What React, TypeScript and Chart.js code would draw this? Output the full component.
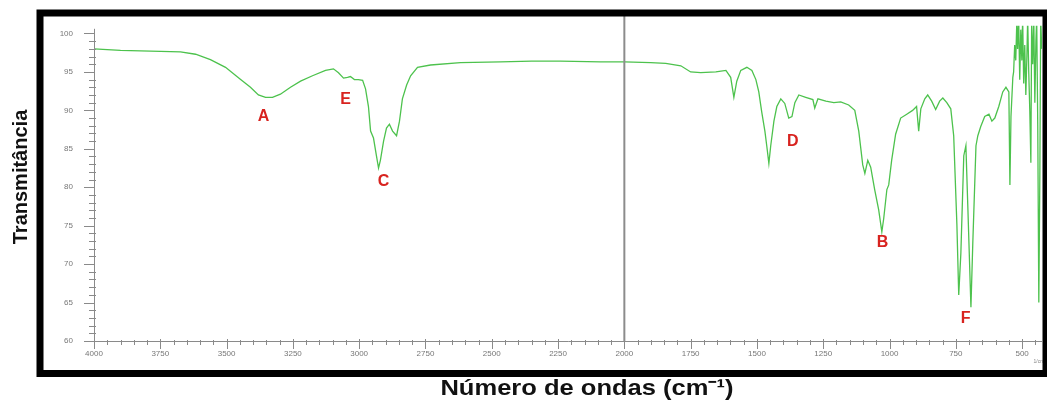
import { useEffect, useRef } from 'react';
import { Chart, registerables } from 'chart.js';

Chart.register(...registerables);

const wavenumbers = [
  4000, 3900, 3787, 3674, 3617, 3561, 3504, 3447, 3410, 3380, 3353, 3327, 3297, 3259, 3221, 3176, 3127, 3097,
  3078, 3059, 3044, 3033, 3018, 3003, 2987, 2976, 2965, 2957, 2946, 2935, 2927, 2920, 2908, 2897, 2886, 2874,
  2859, 2848, 2837, 2821, 2806, 2780, 2731, 2618, 2467, 2350, 2241, 2090, 2000, 1901, 1844, 1787, 1750, 1712,
  1655, 1617, 1599, 1587, 1576, 1561, 1538, 1519, 1504, 1493, 1482, 1470, 1463, 1455, 1448, 1436, 1425, 1410,
  1395, 1380, 1368, 1357, 1342, 1316, 1289, 1282, 1270, 1240, 1210, 1184, 1154, 1131, 1116, 1101, 1093, 1082,
  1071, 1056, 1041, 1029, 1022, 1010, 1003, 992, 977, 958, 935, 913, 898, 890, 882, 867, 856, 841, 826, 811,
  799, 784, 769, 758, 746, 739, 731, 720, 712, 705, 693, 686, 674, 667, 656, 641, 625, 614, 603, 588, 573, 561,
  550, 546, 542, 535, 532, 528, 524, 520, 517, 513, 509, 505, 501, 498, 494, 490, 486, 482, 479, 475, 471, 467,
  464, 460, 456, 452, 448, 445, 441, 437, 433, 430, 426,
];

const transmittance = [
  98.0, 97.8, 97.7, 97.6, 97.3, 96.6, 95.6, 94.0, 93.0, 92.0, 91.7, 91.7, 92.1, 93.0, 93.8, 94.5, 95.2, 95.4,
  94.9, 94.2, 94.3, 94.4, 94.0, 94.0, 93.9, 92.8, 90.5, 87.3, 86.4, 84.1, 82.5, 83.5, 86.0, 87.7, 88.2, 87.3,
  86.7, 88.6, 91.5, 93.3, 94.5, 95.6, 95.9, 96.2, 96.3, 96.4, 96.4, 96.3, 96.3, 96.2, 96.1, 95.8, 95.0, 94.9,
  95.0, 95.2, 94.3, 91.7, 93.8, 95.2, 95.6, 95.2, 94.0, 92.4, 89.8, 87.3, 85.4, 83.1, 85.4, 88.6, 90.5, 91.5,
  90.9, 89.0, 89.2, 91.0, 92.0, 91.7, 91.4, 90.3, 91.5, 91.2, 91.0, 91.1, 90.7, 90.0, 87.3, 82.9, 81.8, 83.5,
  82.6, 79.7, 77.1, 74.2, 75.9, 79.7, 80.3, 83.5, 86.9, 89.0, 89.5, 90.0, 90.5, 87.3, 90.2, 91.5, 92.0, 91.2, 90.1, 91.2,
  91.6, 91.0, 90.2, 86.7, 75.2, 66.0, 71.4, 84.1, 85.4, 77.8, 64.4, 72.7, 85.4, 86.7, 87.9, 89.2, 89.5, 88.6, 89.0, 90.5, 92.4, 93.0,
  92.4, 80.3, 89.2, 94.3, 95.0, 98.5, 96.5, 101.5, 98.0, 102, 94.0, 100.5, 96.5, 102, 93.5, 98.5, 92.0, 97.0, 102, 95.0, 90.0, 83.2,
  101.5, 96.0, 102, 91.0, 99.0, 102, 88.0, 65.0, 82.0, 102, 98.0,
];

const xTickValues = [4000, 3750, 3500, 3250, 3000, 2750, 2500, 2250, 2000, 1750, 1500, 1250, 1000, 750, 500];
const yTickValues = [100, 95, 90, 85, 80, 75, 70, 65, 60];

const peakLabels = ['A', 'B', 'C', 'D', 'E', 'F'];
const peakLabelX = [3361, 1026, 2908, 1365, 3051, 713];
const peakLabelY = [89.2, 72.8, 80.7, 86.0, 91.4, 62.9];

const xTitle = 'Número de ondas (cm⁻¹)';
const yTitle = 'Transmitância';
const unitLabel = '1/cm';
const separatorWavenumber = 2000;

const FONT = '"Liberation Sans", Arial, sans-serif';

const decorPlugin = {
  id: 'decor',
  afterDraw(chart: any) {
    const ctx = chart.ctx;
    const { left, right, top, bottom } = chart.chartArea;
    const xs = chart.scales.x;
    const ys = chart.scales.y;
    ctx.save();

    // axis lines
    ctx.strokeStyle = '#8a8a8a';
    ctx.lineWidth = 1;
    ctx.beginPath();
    ctx.moveTo(left + 0.5, top + 3);
    ctx.lineTo(left + 0.5, bottom + 0.5);
    ctx.lineTo(right, bottom + 0.5);
    ctx.stroke();

    // y ticks
    ctx.beginPath();
    for (let v = ys.min; v <= 100; v += 1) {
      const py = Math.round(ys.getPixelForValue(v)) + 0.5;
      const major = v % 5 === 0;
      ctx.moveTo(left - (major ? 10 : 5), py);
      ctx.lineTo(left + (major ? 1 : 2), py);
    }
    // x ticks
    for (let v = 4000; v >= xs.min; v -= 50) {
      const px = Math.round(xs.getPixelForValue(v)) + 0.5;
      const major = v % 250 === 0;
      ctx.moveTo(px, bottom - (major ? 2 : 1));
      ctx.lineTo(px, bottom + (major ? 8 : 4));
    }
    ctx.stroke();

    // separator at 2000
    const sx = xs.getPixelForValue(separatorWavenumber);
    ctx.strokeStyle = '#8c8c8c';
    ctx.lineWidth = 2;
    ctx.beginPath();
    ctx.moveTo(sx, 15);
    ctx.lineTo(sx, bottom);
    ctx.stroke();

    // peak labels
    ctx.fillStyle = '#d8231f';
    ctx.font = `bold 16px ${FONT}`;
    ctx.textAlign = 'center';
    ctx.textBaseline = 'middle';
    peakLabels.forEach((t, i) => {
      ctx.fillText(t, xs.getPixelForValue(peakLabelX[i]), ys.getPixelForValue(peakLabelY[i]));
    });

    // unit label
    ctx.fillStyle = '#888';
    ctx.font = `5px ${FONT}`;
    ctx.fillText(unitLabel, right - 3, bottom + 21);

    // titles
    ctx.fillStyle = '#111';
    ctx.font = `bold 22px ${FONT}`;
    ctx.save();
    ctx.translate(587, 389);
    ctx.scale(1.16, 1);
    ctx.fillText(xTitle, 0, 0);
    ctx.restore();

    ctx.save();
    ctx.translate(21, 177);
    ctx.rotate(-Math.PI / 2);
    ctx.font = `bold 20px ${FONT}`;
    ctx.fillText(yTitle, 0, 0);
    ctx.restore();

    // frame
    ctx.strokeStyle = '#000';
    ctx.lineWidth = 7;
    ctx.strokeRect(40, 13, 1006, 360.5);
    ctx.restore();
  },
};

export default function App() {
  const ref = useRef<HTMLCanvasElement | null>(null);

  useEffect(() => {
    if (!ref.current) return;
    const points = wavenumbers.map((w, i) => ({ x: w, y: transmittance[i] }));
    const chart = new Chart(ref.current, {
      type: 'line',
      data: {
        datasets: [
          {
            data: points,
            borderColor: '#4dc24d',
            borderWidth: 1.3,
            pointRadius: 0,
            tension: 0,
            fill: false,
          },
        ],
      },
      options: {
        animation: false,
        responsive: false,
        events: [],
        layout: { padding: { left: 0, top: 17, right: 5, bottom: 0 } },
        plugins: { legend: { display: false }, tooltip: { enabled: false }, title: { display: false } },
        scales: {
          x: {
            type: 'linear',
            reverse: true,
            min: 425,
            max: 4000,
            afterBuildTicks: (s: any) => {
              s.ticks = xTickValues.map((v) => ({ value: v }));
            },
            afterFit: (s: any) => {
              s.height = 60;
            },
            grid: { display: false, drawTicks: false },
            border: { display: false },
            ticks: {
              autoSkip: false,
              maxRotation: 0,
              padding: 8,
              color: '#777',
              font: { size: 8, family: FONT },
              callback: (v: any) => String(v),
            },
          },
          y: {
            type: 'linear',
            min: 60,
            max: 101,
            afterBuildTicks: (s: any) => {
              s.ticks = yTickValues.map((v) => ({ value: v }));
            },
            afterFit: (s: any) => {
              s.width = 94;
            },
            grid: { display: false, drawTicks: false },
            border: { display: false },
            ticks: {
              padding: 21,
              color: '#777',
              font: { size: 8, family: FONT },
              callback: (v: any) => String(v),
            },
          },
        },
      },
      plugins: [decorPlugin],
    });
    return () => chart.destroy();
  }, []);

  return (
    <div style={{ position: 'fixed', left: 0, top: 0, width: 1047, height: 401, background: '#fff' }}>
      <canvas ref={ref} width={1047} height={401} />
    </div>
  );
}
